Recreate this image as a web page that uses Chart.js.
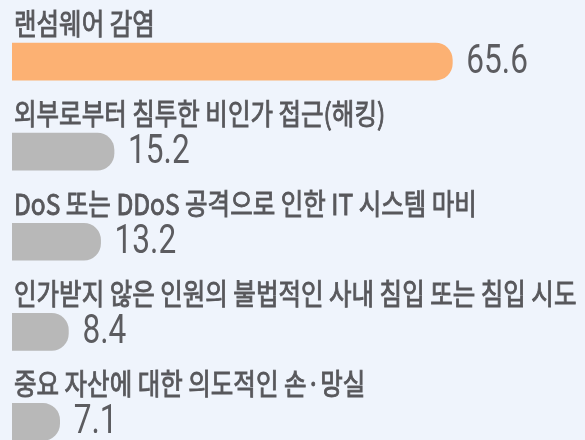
<!DOCTYPE html>
<html>
<head>
<meta charset="utf-8">
<script src="https://cdn.jsdelivr.net/npm/chart.js@4"></script>
<style>
  html, body { margin: 0; padding: 0; background: #eff4fc; width: 585px; height: 440px; overflow: hidden; }
  #chart { display: block; }
</style>
</head>
<body>
<canvas id="chart" width="585" height="467"></canvas>
<script>
// survey items and shares (%)
const categories = [
  '랜섬웨어 감염',
  '외부로부터 침투한 비인가 접근(해킹)',
  'DoS 또는 DDoS 공격으로 인한 IT 시스템 마비',
  '인가받지 않은 인원의 불법적인 사내 침입 또는 침입 시도',
  '중요 자산에 대한 의도적인 손·망실'
];
const values = [65.6, 15.2, 13.2, 8.4, 7.1];

const textColor = '#58585c';

// draws category name above each bar and the value right of it
const barText = {
  id: 'barText',
  afterDatasetsDraw(chart) {
    const ctx = chart.ctx;
    const meta = chart.getDatasetMeta(0);
    meta.data.forEach((bar, i) => {
      ctx.save();
      ctx.fillStyle = textColor;
      ctx.strokeStyle = textColor;
      ctx.lineWidth = 0.9;
      ctx.textBaseline = 'middle';
      ctx.textAlign = 'left';
      // name, condensed like the original font (regular + thin stroke ~ medium)
      ctx.translate(chart.chartArea.left + 2, bar.y - 38);
      ctx.scale(0.845, 1);
      ctx.font = '29px "Noto Sans CJK KR", "Noto Sans", sans-serif';
      ctx.fillText(categories[i], 0, 0);
      ctx.strokeText(categories[i], 0, 0);
      ctx.restore();

      ctx.save();
      ctx.fillStyle = '#5c5c60';
      ctx.textBaseline = 'middle';
      ctx.translate(bar.x + 14, bar.y + 1);
      ctx.scale(0.79, 1);
      ctx.font = '40px Roboto, "Liberation Sans", sans-serif';
      ctx.fillText(values[i].toFixed(1), 0, 0);
      ctx.restore();
    });
  }
};

new Chart(document.getElementById('chart'), {
  type: 'bar',
  data: {
    labels: categories,
    datasets: [{
      data: values,
      backgroundColor: ctx => ctx.dataIndex === 0 ? '#fcb173' : '#b8b8b8',
      borderRadius: 17,
      borderSkipped: 'start',
      barThickness: 37
    }]
  },
  options: {
    indexAxis: 'y',
    responsive: false,
    animation: false,
    devicePixelRatio: 1,
    layout: { padding: { left: 12, right: 36, top: 16.5, bottom: 0 } },
    scales: {
      x: { min: 0, max: 80, display: false },
      y: { display: false }
    },
    plugins: {
      legend: { display: false },
      tooltip: { enabled: false }
    }
  },
  plugins: [barText]
});
</script>
</body>
</html>
